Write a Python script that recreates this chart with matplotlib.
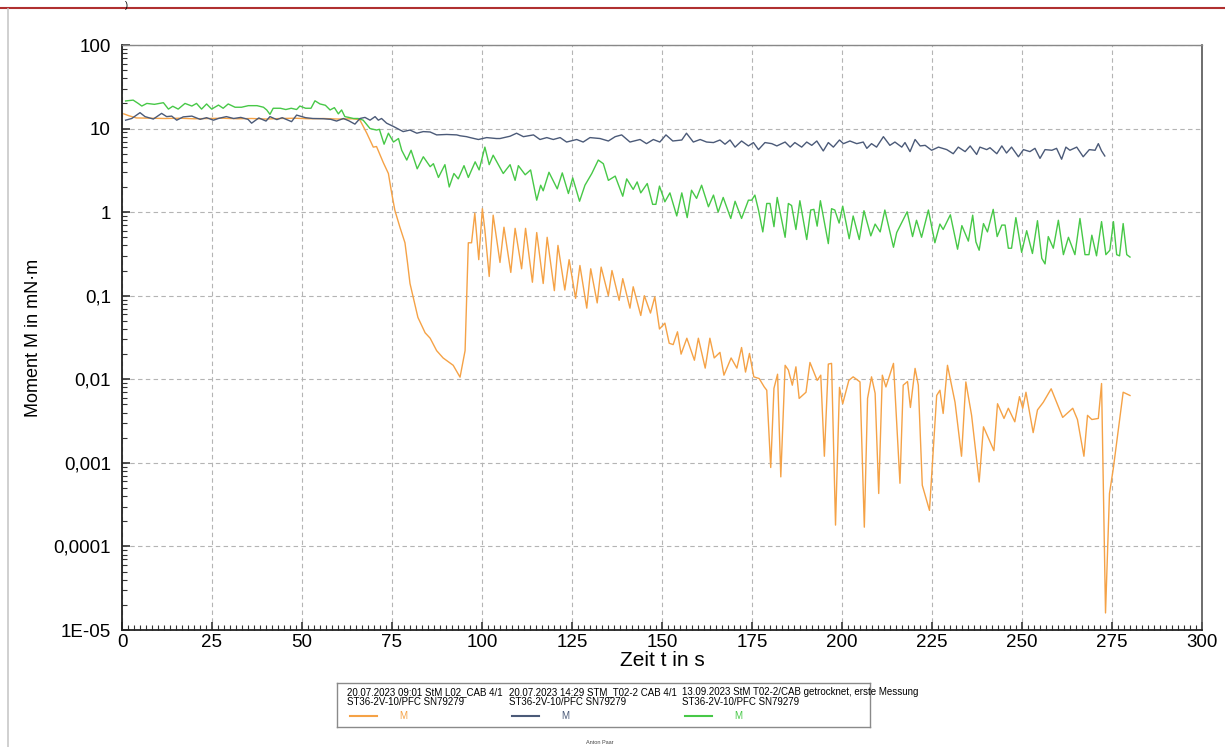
import matplotlib
matplotlib.use("Agg")
import matplotlib.pyplot as plt
from matplotlib.ticker import FixedLocator, MultipleLocator, LogLocator, NullFormatter
from matplotlib.lines import Line2D
import numpy as np

plt.rcParams["font.family"] = ["Liberation Sans", "DejaVu Sans"]

# Reihe 1: 20.07.2023 09:01 StM L02_CAB 4/1 (orange)
t_orange = [0.5, 2, 4, 8, 12, 16, 20, 24, 28, 32, 36, 40, 44, 48, 52, 56, 60, 64, 66,
            66.6, 68, 69.8, 70.7, 72.6, 74, 74.9, 75.8, 77.2, 78.6, 79.3, 80, 80.9, 82.2,
            84.2, 85.6, 87.4, 89.2, 92, 93.9, 95.3, 96.2, 97.1, 98, 99.1, 100.1, 100.8,
            102, 103.1, 105, 106.1, 108, 109.2, 111, 112.1, 114, 115.2, 117, 118.1, 120.1,
            121.1, 123, 124.2, 126, 127.2, 129.1, 130.2, 132, 133.1, 135.1, 136.1, 138.1,
            139.1, 141.1, 142, 144.1, 145.1, 146.8, 148, 149.3, 150.8, 152, 153.1, 154.3,
            155.3, 156.9, 159, 160.1, 162, 163.3, 164.5, 166.1, 167.2, 169.2, 170.8, 172.1,
            173.2, 174.3, 175.5, 177, 178.4, 179.1, 180.2, 181.1, 182.1, 183, 184.2, 185.1,
            186.2, 187.2, 188.1, 190, 191.1, 193.1, 194.1, 195.1, 196.2, 197.1, 198.2,
            199.3, 200.2, 201.9, 203.1, 205, 206.2, 207.1, 208.2, 209.2, 210.2, 211.2,
            212.2, 214.3, 216.1, 217, 218.2, 219, 220.3, 221.2, 222.3, 224.3, 226.3, 227.2,
            228.1, 229.3, 231.4, 233.2, 234.4, 236, 238.1, 239.3, 242.2, 243.2, 245, 246.2,
            248, 249.3, 250.2, 251.1, 253.1, 254.3, 255.9, 258.1, 261.3, 264.1, 265.4,
            267.2, 268.2, 269.4, 271.2, 272.1, 273.2, 274.3, 275.4, 278.1, 280]
m_orange = [15.0, 14.2, 13.4, 13.3, 13.2, 13.3, 13.1, 13.2, 13.3, 13.1, 13.2, 13.0, 13.2,
            13.3, 13.1, 13.2, 13.0, 13.1, 12.8,
            11.5, 8.8, 6.0, 6.1, 3.9, 2.9, 1.7, 1.05, 0.66, 0.43, 0.25, 0.14, 0.096, 0.055,
            0.036, 0.031, 0.022, 0.018, 0.0147, 0.0106, 0.022, 0.43, 0.43, 0.97, 0.27, 1.1,
            0.61, 0.17, 0.92, 0.25, 0.66, 0.19, 0.64, 0.21, 0.64, 0.145, 0.57, 0.14, 0.50,
            0.115, 0.40, 0.117, 0.27, 0.093, 0.23, 0.071, 0.21, 0.082, 0.22, 0.10, 0.20,
            0.088, 0.16, 0.071, 0.128, 0.058, 0.10, 0.062, 0.097, 0.040, 0.047, 0.027,
            0.026, 0.037, 0.020, 0.031, 0.0169, 0.031, 0.0136, 0.031, 0.018, 0.021, 0.0112,
            0.018, 0.0136, 0.024, 0.0122, 0.0204, 0.0107, 0.0102, 0.0081, 0.0074, 0.00088,
            0.0078, 0.0115, 0.00068, 0.0147, 0.0129, 0.0085, 0.0141, 0.0059, 0.007, 0.0159,
            0.0097, 0.0112, 0.0012, 0.0152, 0.0155, 0.00018, 0.008, 0.0051, 0.0097, 0.0107,
            0.0093, 0.00017, 0.0059, 0.0107, 0.0068, 0.00043, 0.0112, 0.0081, 0.0155,
            0.00057, 0.0085, 0.0094, 0.0046, 0.0135, 0.0085, 0.00054, 0.00027, 0.0064,
            0.0074, 0.0039, 0.0147, 0.0053, 0.0012, 0.0093, 0.0037, 0.00059, 0.0027, 0.0014,
            0.0051, 0.0034, 0.0045, 0.0031, 0.0062, 0.0045, 0.007, 0.0023, 0.0043, 0.0053,
            0.0077, 0.0035, 0.0045, 0.0033, 0.0012, 0.0037, 0.0033, 0.0034, 0.0089,
            0.000016, 0.00043, 0.00088, 0.007, 0.0064]

# Reihe 2: 20.07.2023 14:29 STM_T02-2 CAB 4/1 (blau)
t_blue = [1, 2.7, 5, 6.4, 8.7, 11, 12.4, 13.8, 15.2, 17, 19.4, 21.7, 23.5, 25.4, 27, 29,
          31, 33, 35, 36, 38, 40, 41.1, 43, 44.5, 47.1, 48.5, 51, 53, 56, 58, 59.6, 61.5,
          63, 64.7, 66.1, 67.5, 68.9, 70.3, 71.2, 72.1, 73.5, 75.4, 78.1, 80, 81.9, 83.7,
          85.6, 87.4, 90.2, 93, 93.9, 95.7, 96.7, 99, 101.3, 104, 105, 107.8, 109.6, 111.5,
          114.3, 116.1, 118, 119.8, 121.7, 123.5, 126.3, 128.1, 130, 132.8, 135.1, 137,
          138.8, 141.1, 143.9, 145.7, 147.6, 149.4, 151.1, 153, 155.5, 156.8, 158.7, 160.6,
          162.4, 164.3, 166.1, 167.5, 168.9, 170.3, 172.1, 174, 175.4, 176.8, 178.6, 180.5,
          181.9, 184.2, 185.6, 186.9, 188.8, 190.2, 191.6, 193, 194.8, 196.2, 197.6, 199.3,
          200.4, 202.2, 204.1, 205.9, 206.9, 208.2, 209.6, 211.5, 213.3, 214.7, 216.6,
          217.5, 218.9, 220.3, 221.7, 223.1, 224.9, 226.8, 229.1, 230.9, 232.3, 234.2,
          235.6, 237.4, 238.3, 240.2, 241.1, 243, 244.4, 245.7, 247.1, 249, 250.4, 252.2,
          253.6, 255, 256.4, 258.3, 259.6, 261, 262.2, 263.3, 265.2, 267, 268.7, 270.3,
          271.2, 272.1, 273]
m_blue = [12.6, 13.2, 15.5, 13.9, 13.0, 15.2, 13.9, 14.1, 12.6, 13.8, 14.1, 12.9, 13.5,
          12.6, 13.3, 13.9, 13.2, 13.6, 12.9, 11.6, 13.4, 12.3, 13.9, 12.8, 13.5, 12.1,
          14.5, 13.5, 13.2, 13.1, 12.9, 12.3, 13.2, 12.4, 11.3, 13.2, 13.6, 12.6, 13.9,
          12.6, 13.2, 11.6, 10.6, 9.2, 9.6, 8.8, 9.2, 9.1, 8.4, 8.5, 8.4, 8.2, 8.0, 7.8,
          7.4, 7.8, 7.6, 7.6, 8.1, 8.8, 8.0, 8.4, 7.4, 7.8, 7.4, 7.8, 6.9, 7.4, 6.9, 7.8,
          7.6, 7.1, 8.0, 8.4, 6.9, 7.4, 6.6, 7.4, 6.9, 8.4, 7.1, 7.3, 8.8, 6.9, 7.4, 6.9,
          6.8, 7.3, 6.5, 7.3, 6.0, 7.1, 6.2, 6.8, 5.6, 6.8, 6.6, 6.2, 6.9, 6.0, 6.8, 6.0,
          6.9, 6.3, 7.1, 5.4, 6.8, 6.0, 7.3, 6.6, 7.1, 6.6, 6.9, 5.8, 6.6, 6.0, 8.0, 6.3,
          6.9, 6.0, 6.8, 5.3, 7.4, 6.2, 6.3, 5.5, 6.0, 5.6, 5.0, 6.0, 5.3, 6.2, 4.9, 6.0,
          5.6, 5.9, 5.0, 6.2, 5.1, 6.0, 4.6, 5.6, 5.3, 5.8, 4.4, 5.6, 5.5, 5.8, 4.3, 6.0,
          5.5, 6.0, 4.6, 5.6, 5.5, 6.6, 5.4, 4.7]

# Reihe 3: 13.09.2023 StM T02-2/CAB getrocknet, erste Messung (gruen)
t_green = [1, 3.1, 4.5, 5.5, 6.9, 9, 11.5, 12.9, 14.1, 15.6, 17.5, 19.4, 20.7, 22.1, 23.5,
           24.9, 26.8, 28.1, 29.5, 31.4, 33.2, 35.1, 37.5, 39.3, 40.2, 41.1, 42, 44, 45.5,
           47, 48.5, 49.4, 51, 52.5, 53.6, 55, 56.5, 57.8, 59, 60.1, 61, 61.9, 63, 64.3,
           65.6, 67, 68.9, 70.7, 71.5, 72.8, 74, 75.4, 76.8, 77.7, 79.1, 80.3, 82, 83.7,
           85.6, 86.5, 87.9, 89.7, 90.9, 92.2, 93.4, 95, 96.2, 98.1, 99.2, 100.8, 102,
           103.1, 105.9, 107.8, 109.2, 110.1, 112, 113.5, 115.2, 116.3, 117, 118.6, 120.9,
           122.3, 124, 125.2, 127.1, 128.6, 130.5, 132.3, 133.7, 135.1, 137, 139.1, 140.2,
           142, 143.1, 144.1, 145.9, 147.4, 148.3, 149.3, 150.8, 152.2, 154.1, 155.5, 157,
           158.2, 159.6, 161, 162.9, 164.3, 165.6, 167, 169.1, 170.3, 172.1, 174, 174.9,
           175.8, 176.8, 178, 179.1, 180, 181.1, 182, 184.2, 185.1, 186, 187.2, 188.3,
           190.2, 191.3, 192.2, 193.1, 194, 196.2, 197.1, 198, 199.2, 200.2, 202, 203.1,
           204.8, 206.1, 208, 209.2, 210.6, 211.9, 214.3, 215.2, 218.1, 219.6, 220.7, 222.1,
           224, 225.8, 227.2, 228.1, 230.1, 232.1, 233.3, 235.1, 236.3, 237.2, 238.1, 239.3,
           240.4, 242, 243.1, 244.4, 245.3, 246.2, 247.1, 248.3, 249.9, 251.3, 252.9, 254.3,
           255.5, 256.4, 257.3, 258.7, 260.1, 261.5, 262.9, 264.7, 266.1, 267.5, 268.6,
           269.4, 270.7, 272.1, 273.3, 274.4, 275.4, 276.3, 277.1, 278.1, 279.1, 280]
m_green = [21.4, 21.9, 20.0, 18.6, 20.0, 19.5, 20.4, 17.1, 18.5, 17.1, 20.0, 18.6, 20.0,
           17.1, 19.7, 17.1, 19.1, 17.5, 19.7, 18.0, 18.0, 18.8, 18.8, 18.0, 16.7, 14.8,
           17.5, 17.5, 16.9, 17.5, 16.9, 18.6, 17.5, 17.5, 21.5, 19.7, 19.0, 16.7, 17.8,
           15.0, 16.7, 13.9, 13.6, 13.2, 13.2, 12.6, 10.0, 9.6, 9.8, 6.5, 8.8, 6.9, 7.6,
           5.5, 4.2, 5.5, 3.3, 4.6, 3.5, 3.8, 2.6, 3.7, 2.0, 2.9, 2.5, 3.6, 2.6, 4.0, 3.2,
           6.0, 3.7, 4.8, 2.9, 3.7, 2.4, 3.6, 2.8, 3.2, 1.39, 2.1, 1.8, 3.0, 1.9, 2.95, 1.67,
           2.57, 1.35, 2.1, 2.9, 4.2, 3.8, 2.4, 2.7, 1.55, 2.5, 1.87, 2.3, 1.7, 2.2, 1.24,
           1.24, 2.05, 1.33, 1.7, 0.9, 1.7, 0.86, 1.83, 1.46, 2.1, 1.16, 1.6, 1.0, 1.5, 0.84,
           1.35, 0.84, 1.39, 1.39, 1.6, 1.06, 0.58, 1.27, 1.27, 0.67, 1.5, 0.5, 1.27, 1.2,
           0.62, 1.37, 0.47, 1.06, 1.08, 0.68, 1.37, 0.42, 1.1, 1.06, 0.74, 1.18, 0.48, 0.9,
           0.47, 1.04, 0.52, 0.72, 0.58, 1.06, 0.38, 0.57, 1.01, 0.51, 0.8, 0.5, 1.06, 0.43,
           0.72, 0.62, 0.93, 0.36, 0.69, 0.45, 0.92, 0.44, 0.35, 0.73, 0.58, 1.08, 0.51, 0.7,
           0.7, 0.37, 0.37, 0.86, 0.33, 0.6, 0.32, 0.79, 0.28, 0.24, 0.51, 0.37, 0.8, 0.31,
           0.5, 0.31, 0.84, 0.31, 0.31, 0.53, 0.3, 0.77, 0.31, 0.35, 0.77, 0.31, 0.30, 0.73,
           0.31, 0.29]

y_ticks = [1e-5, 1e-4, 1e-3, 1e-2, 1e-1, 1, 10, 100]
y_labels = ["1E-05", "0,0001", "0,001", "0,01", "0,1", "1", "10", "100"]
x_ticks = [0, 25, 50, 75, 100, 125, 150, 175, 200, 225, 250, 275, 300]

legend_titles = ["20.07.2023 09:01 StM L02_CAB 4/1",
                 "20.07.2023 14:29 STM_T02-2 CAB 4/1",
                 "13.09.2023 StM T02-2/CAB getrocknet, erste Messung"]
legend_device = "ST36-2V-10/PFC SN79279"

c_orange = "#f5a246"
c_blue = "#4b5a78"
c_green = "#47c847"

fig = plt.figure(figsize=(12.25, 7.47), dpi=100)
ax = fig.add_axes([122 / 1225, 1 - 630 / 747, 1080 / 1225, 585 / 747])

ax.plot(t_orange, m_orange, color=c_orange, lw=1.0, zorder=3)
ax.plot(t_blue, m_blue, color=c_blue, lw=1.0, zorder=4)
ax.plot(t_green, m_green, color=c_green, lw=1.0, zorder=3)

ax.set_yscale("log")
ax.set_xlim(0, 300)
ax.set_ylim(1e-5, 100)
ax.yaxis.set_major_locator(FixedLocator(y_ticks))
ax.set_yticklabels(y_labels)
ax.yaxis.set_minor_locator(LogLocator(base=10, subs=np.arange(2, 10), numticks=20))
ax.yaxis.set_minor_formatter(NullFormatter())
ax.set_xticks(x_ticks)
ax.set_xticklabels([str(v) for v in x_ticks])
ax.xaxis.set_minor_locator(MultipleLocator(25 / 15))

ax.grid(True, which="major", color="#b4b4b4", ls=(0, (4, 3)), lw=0.8)
ax.tick_params(which="both", direction="in", labelsize=13.5, colors="#333333",
               labelcolor="black")
ax.tick_params(which="major", length=6, width=1.2)
ax.tick_params(which="minor", length=3.5, width=0.8)
ax.tick_params(axis="x", pad=3)
ax.tick_params(axis="y", pad=8)

for side in ["left", "bottom"]:
    ax.spines[side].set_color("#222222")
    ax.spines[side].set_linewidth(1.3)
ax.spines["right"].set_color("#555555")
ax.spines["right"].set_linewidth(1.2)
ax.spines["top"].set_color("#888888")
ax.spines["top"].set_linewidth(1.0)

ax.set_xlabel("Zeit t in s", fontsize=15, labelpad=0)
ax.set_ylabel("Moment M in mN·m", fontsize=13, labelpad=8)

# Rahmen des Screenshots
fig.add_artist(Line2D([0, 1], [1 - 8 / 747, 1 - 8 / 747], color="#b03030", lw=1.5))
fig.add_artist(Line2D([8 / 1225, 8 / 1225], [0, 1 - 9 / 747], color="#c8c8c8", lw=1.2))
fig.text(125 / 1225, 1 - 0.5 / 747, ")", fontsize=6.5, va="top", ha="left")

# Legende
lax = fig.add_axes([337 / 1225, 1 - 727 / 747, 533 / 1225, 44 / 747])
lax.set_xlim(0, 533)
lax.set_ylim(44, 0)
lax.set_xticks([])
lax.set_yticks([])
for s in lax.spines.values():
    s.set_color("#8a8a8a")
    s.set_linewidth(1.0)

col_x = [10, 172, 345]
for cx, title, col in zip(col_x, legend_titles, [c_orange, c_blue, c_green]):
    lax.text(cx, 9, title, fontsize=7, va="center", ha="left")
    lax.text(cx, 19, legend_device, fontsize=7, va="center", ha="left")
    lax.plot([cx + 3, cx + 30], [33, 33], color=col, lw=1.5)
    lax.text(cx + 52, 33, "M", fontsize=7, va="center", ha="left", color=col)

fig.text(600 / 1225, 1 - 742 / 747, "Anton Paar", fontsize=4, ha="center",
         va="center", color="#444444")

fig.savefig("out.png", dpi=100)
